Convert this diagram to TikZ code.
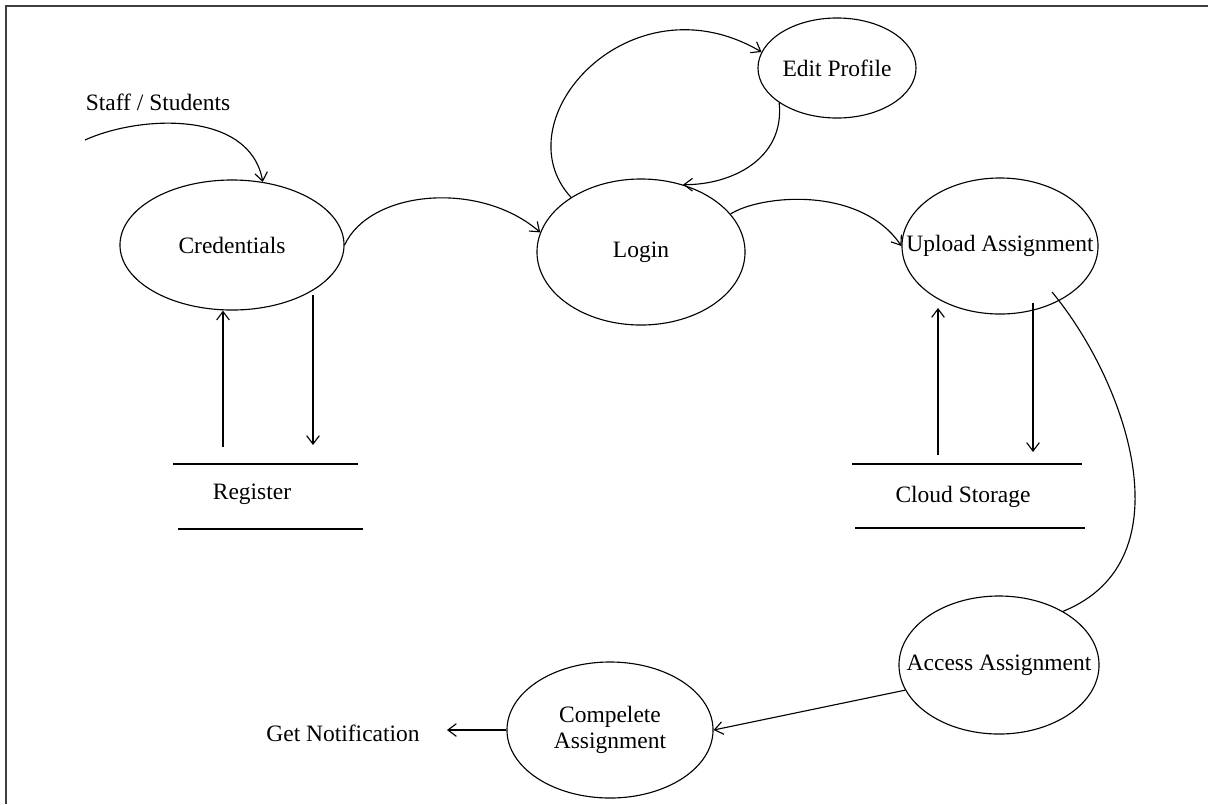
\documentclass[tikz,border=0pt]{standalone}
\usepackage{fontspec}
\setmainfont{Liberation Serif}
\usetikzlibrary{shapes.geometric,arrows.meta}

\begin{document}
\begin{tikzpicture}[x=0.025cm,y=-0.025cm,line width=0.8pt]
\tikzstyle{every node}+=[inner sep=0pt,font=\fontsize{16.7}{19}\selectfont]
\tikzstyle{proc}=[draw,ellipse]
\tikzstyle{flow}=[-{Straight Barb[length=6pt,width=9pt]}]
\useasboundingbox (0,0) rectangle (1208,804);
\draw [black!75,line width=1.6pt] (6,804) -- (6,6) -- (1208,6);

\node [proc,minimum width=5.6cm,minimum height=3.25cm,label=center:Credentials] (cred) at (232,245) {};
\node [proc,minimum width=5.2cm,minimum height=3.65cm,label=center:Login] (login) at (641,252) {};
\node [proc,minimum width=3.95cm,minimum height=2.5cm,label=center:Edit Profile] (edit) at (837,68) {};
\node [proc,minimum width=4.9cm,minimum height=3.4cm,label=center:Upload Assignment] (upload) at (1000,246) {};
\node [proc,minimum width=5cm,minimum height=3.45cm,label=center:Access Assignment] (access) at (999,665) {};
\node [proc,minimum width=5.15cm,minimum height=3.4cm,label={[align=center]center:Compelete\\Assignment}] (comp) at (610,730) {};

\node (staff) at (158,102) {Staff / Students};
\node (reg) at (252,494) {Register};
\node (cloud) at (963,497) {Cloud Storage};
\node (note) at (343,733) {Get Notification};

\draw [black] (173,464) -- (358,464);
\draw [black] (178,529) -- (363,529);
\draw [black] (852,464) -- (1082,464);
\draw [black] (855,528) -- (1085,528);

\coordinate (src) at (85,140);
\coordinate (r1) at (223,447);
\coordinate (r2) at (313,445);
\coordinate (c1) at (938,455);
\coordinate (c2) at (1033,452);
\coordinate (gn) at (447,730);

\draw [flow] (src) .. controls (140,115) and (250,110) .. (cred.64);
\draw [flow] (r1) -- (r1 |- cred.south);
\draw [flow] (313,295) -- (r2);
\draw [flow] (cred.east) .. controls (370,190) and (480,180) .. (login.169);
\draw [flow] (login.23) .. controls (760,195) and (860,185) .. (upload.west);
\draw [flow] (login.142) .. controls (500,120) and (630,-25) .. (edit.168);
\draw [flow] (edit.211) .. controls (785,160) and (730,185) .. (login.58);
\draw [flow] (c1) -- (938,308);
\draw [flow] (1033,303) -- (c2);
\draw (1052,292) .. controls (1125,380) and (1190,560) .. (access.40);
\draw [flow] (access.195) -- (comp.east);
\draw [flow] (comp.west) -- (gn);

\end{tikzpicture}
\end{document}
